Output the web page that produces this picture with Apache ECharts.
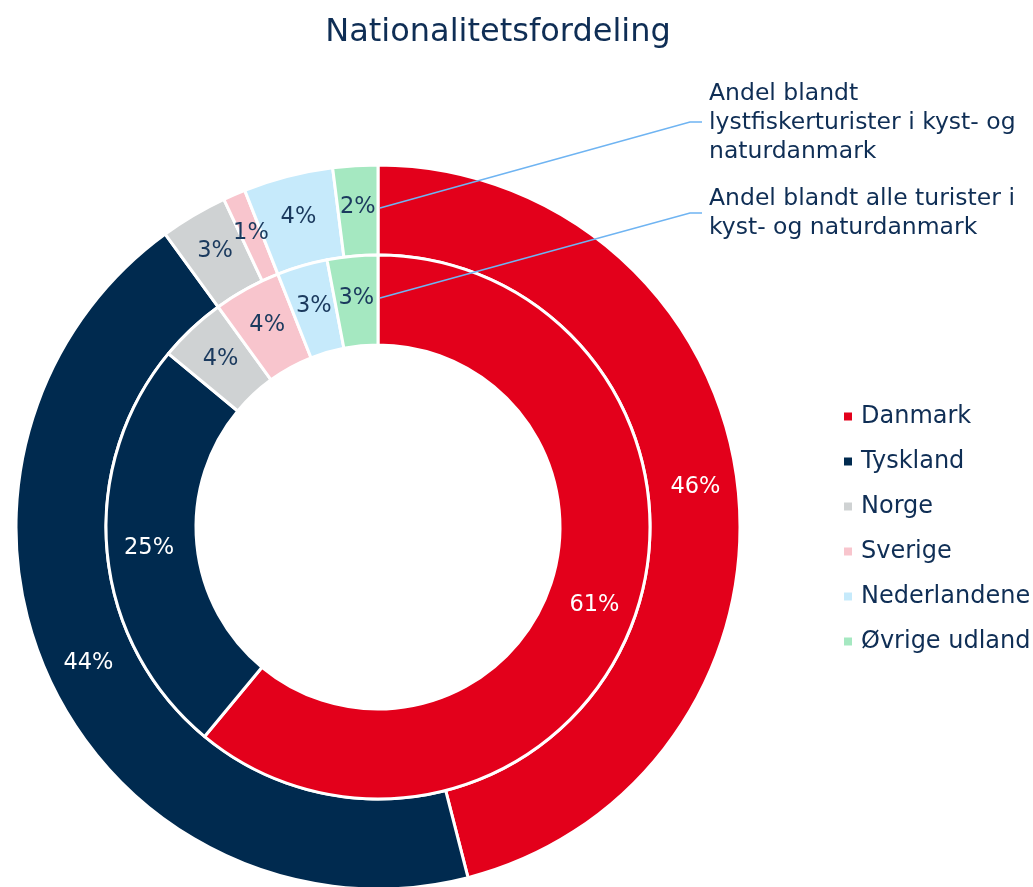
<!DOCTYPE html>
<html>
<head>
<meta charset="utf-8">
<script src="https://cdn.jsdelivr.net/npm/echarts@6/dist/echarts.min.js"></script>
<style>
html,body{margin:0;padding:0;background:#fff;}
#chart{width:1033px;height:887px;}
</style>
</head>
<body>
<div id="chart"></div>
<script>
const categories = ['Danmark','Tyskland','Norge','Sverige','Nederlandene','Øvrige udland'];
const lystfiskerValues = [46,44,3,1,4,2];
const alleValues = [61,25,4,4,3,3];
const colors = ['#e3001b','#002a4f','#cfd2d3','#f8c5cd','#c6eafb','#a5e8c1'];
const labelColors = ['#ffffff','#ffffff','#1b3a5e','#1b3a5e','#1b3a5e','#1b3a5e'];
const outerSeriesName = 'Andel blandt lystfiskerturister i kyst- og naturdanmark';
const innerSeriesName = 'Andel blandt alle turister i kyst- og naturdanmark';

const FONT = 'DejaVu Sans';
const NAVY = '#0f2e55';

function buildData(values){
  return categories.map((c,i)=>({
    name:c, value:values[i],
    itemStyle:{color:colors[i]},
    label:{color:labelColors[i]}
  }));
}

const chart = echarts.init(document.getElementById('chart'), null, {renderer:'canvas'});
const center = [378, 527];
const pieLabel = {show:true,position:'inside',formatter:'{c}%',fontFamily:FONT,fontSize:22.5,overflow:'none'};
chart.setOption({
  animation:false,
  backgroundColor:'#ffffff',
  title:{
    text:'Nationalitetsfordeling',
    left:493, top:12, textAlign:'center',
    textStyle:{fontFamily:FONT,fontSize:32,fontWeight:'normal',color:NAVY}
  },
  legend:{
    orient:'vertical',
    left:837, top:398,
    icon:'rect', itemWidth:10, itemHeight:10,
    itemGap:18,
    data:categories,
    textStyle:{fontFamily:FONT,fontSize:24,color:NAVY,lineHeight:27,padding:[0,0,0,3]}
  },
  series:[
    {
      name:outerSeriesName, type:'pie',
      center:center, radius:[272,362],
      startAngle:90, clockwise:true,
      avoidLabelOverlap:false,
      minShowLabelAngle:0,
      labelLayout:{hideOverlap:false},
      itemStyle:{borderColor:'#ffffff',borderWidth:3},
      label:pieLabel,
      labelLine:{show:false},
      emphasis:{disabled:true},
      data:buildData(lystfiskerValues)
    },
    {
      name:innerSeriesName, type:'pie',
      center:center, radius:[182,272],
      startAngle:90, clockwise:true,
      avoidLabelOverlap:false,
      minShowLabelAngle:0,
      labelLayout:{hideOverlap:false},
      itemStyle:{borderColor:'#ffffff',borderWidth:3},
      label:pieLabel,
      labelLine:{show:false},
      emphasis:{disabled:true},
      data:buildData(alleValues)
    }
  ],
  graphic:[
    {type:'polyline',shape:{points:[[380,208],[690,122],[702,122]]},style:{stroke:'#6fb4f2',lineWidth:1.6,fill:null},z:100},
    {type:'polyline',shape:{points:[[380,298],[690,213],[702,213]]},style:{stroke:'#6fb4f2',lineWidth:1.6,fill:null},z:100},
    {type:'text',left:709,top:79,style:{text:'Andel blandt\nlystfiskerturister i kyst- og\nnaturdanmark',fontFamily:FONT,fontSize:23.5,lineHeight:29,fill:NAVY}},
    {type:'text',left:709,top:184,style:{text:'Andel blandt alle turister i\nkyst- og naturdanmark',fontFamily:FONT,fontSize:23.5,lineHeight:29,fill:NAVY}}
  ]
});
</script>
</body>
</html>
